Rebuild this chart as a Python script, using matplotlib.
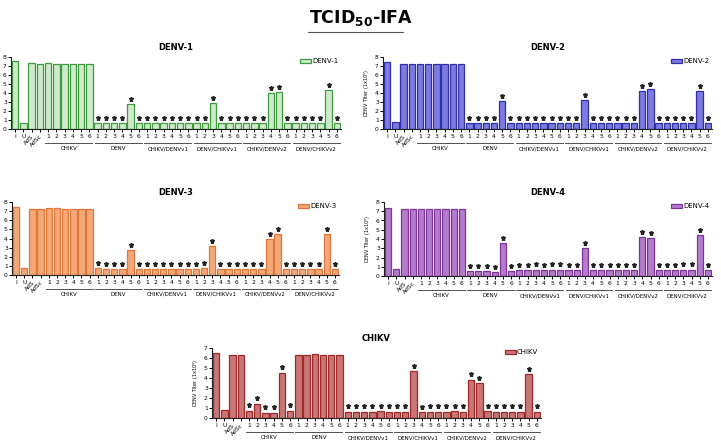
import matplotlib
matplotlib.use("Agg")
import matplotlib.pyplot as plt
from matplotlib.lines import Line2D

# x categories: 4 controls, then 6 groups of 6 samples
controls = ["I", "U", "AdS", "AdSc"]
groups = ["CHIKV", "DENV", "CHIKV/DENVv1", "DENV/CHIKVv1", "CHIKV/DENVv2", "DENV/CHIKVv2"]
samples = ["1", "2", "3", "4", "5", "6"]
tick_labels = controls + samples * len(groups)

denv1 = [7.6, 0.7, 7.3, 7.25,
         7.3, 7.25, 7.25, 7.25, 7.25, 7.25,
         0.7, 0.7, 0.7, 0.7, 2.8, 0.65,
         0.65, 0.65, 0.65, 0.7, 0.65, 0.65,
         0.65, 0.65, 2.85, 0.65, 0.65, 0.65,
         0.65, 0.65, 0.65, 4.0, 4.15, 0.65,
         0.65, 0.65, 0.65, 0.65, 4.3, 0.65]
denv2 = [7.5, 0.75, 7.2, 7.2,
         7.25, 7.2, 7.2, 7.2, 7.2, 7.25,
         0.7, 0.65, 0.65, 0.65, 3.1, 0.65,
         0.65, 0.65, 0.65, 0.65, 0.65, 0.65,
         0.65, 0.65, 3.25, 0.65, 0.65, 0.7,
         0.65, 0.65, 0.65, 4.2, 4.4, 0.65,
         0.65, 0.65, 0.65, 0.65, 4.25, 0.65]
denv3 = [7.45, 0.8, 7.2, 7.25,
         7.3, 7.3, 7.2, 7.25, 7.2, 7.25,
         0.75, 0.7, 0.7, 0.65, 2.75, 0.65,
         0.7, 0.65, 0.65, 0.65, 0.65, 0.65,
         0.7, 0.75, 3.15, 0.65, 0.65, 0.65,
         0.7, 0.7, 0.7, 3.95, 4.5, 0.65,
         0.7, 0.65, 0.7, 0.7, 4.45, 0.65]
denv4 = [7.4, 0.8, 7.2, 7.25,
         7.25, 7.2, 7.25, 7.25, 7.2, 7.2,
         0.55, 0.5, 0.5, 0.45, 3.55, 0.5,
         0.65, 0.65, 0.7, 0.65, 0.7, 0.7,
         0.65, 0.65, 3.0, 0.65, 0.65, 0.65,
         0.65, 0.65, 0.65, 4.25, 4.15, 0.65,
         0.65, 0.65, 0.7, 0.7, 4.45, 0.65]
chikv = [6.5, 0.8, 6.3, 6.3,
         0.75, 1.45, 0.55, 0.55, 4.55, 0.75,
         6.35, 6.3, 6.4, 6.35, 6.3, 6.3,
         0.65, 0.65, 0.65, 0.65, 0.7, 0.65,
         0.65, 0.65, 4.7, 0.6, 0.65, 0.65,
         0.65, 0.7, 0.65, 3.85, 3.5, 0.7,
         0.65, 0.65, 0.65, 0.65, 4.4, 0.65]

# bars marked with a significance star
stars_denv = list(range(10, 40))
stars_chikv = list(range(4, 10)) + list(range(16, 40))

ylabel = "DENV Titer (1x10$^x$)"

# (name, values, stars, fill, edge, ymax, rect [px: left, top, right, bottom], ylabel)
panels = [
    ("DENV-1", denv1, stars_denv, "#cfeacb", "#3f9b3f", 8, (11, 57, 341, 129), None),
    ("DENV-2", denv2, stars_denv, "#7b7be0", "#2f2fa8", 8, (383, 57, 712, 129), ylabel),
    ("DENV-3", denv3, stars_denv, "#f3a878", "#e0763a", 8, (12, 202, 339, 275), None),
    ("DENV-4", denv4, stars_denv, "#b57bcc", "#7d3599", 8, (384, 202, 712, 276), ylabel),
    ("CHIKV", chikv, stars_chikv, "#c97676", "#a02828", 7, (212, 348, 541, 418), ylabel),
]

W, H = 721, 440
fig = plt.figure(figsize=(W / 100, H / 100), dpi=100)

fig.text(0.5, 1 - 18 / H, r"TCID$_{\mathbf{50}}$-IFA", ha="center", va="center",
         fontsize=12.5, fontweight="bold")
fig.add_artist(Line2D([308 / W, 403 / W], [1 - 32 / H, 1 - 32 / H],
                      color="#555555", lw=0.8))

for name, vals, stars, fill, edge, ymax, (l, t, r, b), ylab in panels:
    ax = fig.add_axes([l / W, 1 - b / H, (r - l) / W, (b - t) / H])
    x = list(range(len(vals)))
    ax.bar(x, vals, width=0.78, color=fill, edgecolor=edge, linewidth=0.9, label=name)
    sx = [i for i in stars]
    sy = [vals[i] + 0.55 for i in stars]
    ax.plot(sx, sy, ls="none", marker="*", ms=3.6, color="#222222")

    ax.set_xlim(-0.5, len(vals) - 0.5)
    ax.set_ylim(0, ymax)
    ax.set_yticks(range(ymax + 1))
    ax.set_xticks(x)
    ax.set_xticklabels(tick_labels, fontsize=4.3)
    for lab in ax.get_xticklabels()[2:4]:
        lab.set_rotation(45)
        lab.set_ha("right")
        lab.set_rotation_mode("anchor")
    ax.tick_params(axis="y", labelsize=4.3, length=2, width=0.7, pad=1)
    ax.tick_params(axis="x", length=2, width=0.7, pad=1.5)
    for s in ("top", "right"):
        ax.spines[s].set_visible(False)
    for s in ("left", "bottom"):
        ax.spines[s].set_linewidth(0.8)
        ax.spines[s].set_color("#222222")
    ax.set_title(name, fontsize=6, fontweight="bold", pad=5)
    if ylab:
        ax.set_ylabel(ylab, fontsize=3.5, labelpad=2)

    # group underlines and names
    trans = ax.get_xaxis_transform()
    hpx = b - t
    for gi, g in enumerate(groups):
        x0 = 4 + gi * 6
        ax.plot([x0 - 0.35, x0 + 5.35], [-14 / hpx, -14 / hpx], color="#333333",
                lw=0.6, transform=trans, clip_on=False)
        ax.text(x0 + 2.5, -17 / hpx, g, transform=trans, ha="center", va="top",
                fontsize=4)

    ax.legend(loc="upper right", bbox_to_anchor=(1.0, 1.02), frameon=False,
              fontsize=5, handlelength=1.6, handleheight=0.5, handletextpad=0.1,
              borderaxespad=0)

fig.savefig("out.png", dpi=100)
